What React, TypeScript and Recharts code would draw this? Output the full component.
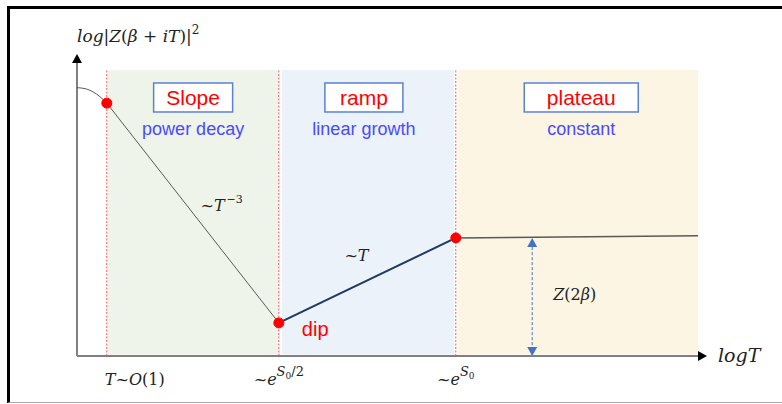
import {
  ComposedChart,
  Line,
  XAxis,
  YAxis,
  ReferenceArea,
  ReferenceLine,
  ReferenceDot
} from 'recharts'

// schematic units: x = log T (0..100), y = log|Z|^2 (0..100)
const phaseNames = ['Slope', 'ramp', 'plateau']
const phaseNotes = ['power decay', 'linear growth', 'constant']
const phaseCenters = [18.7, 46.2, 81.2]
const phaseStart = [5.0, 33.0, 61.4]
const phaseEnd = [32.4, 60.7, 100]
const phaseTop = 97.6

const markerX = [4.8, 32.5, 61]
const markerY = [86.3, 11.3, 40.3]

const shoulder = [
  { x: 0, y: 91.6 },
  { x: 1.56, y: 91.1 },
  { x: 2.62, y: 90.1 },
  { x: 3.7, y: 88.5 },
  { x: 4.8, y: 86.3 }
]
const slope = [
  { x: 4.8, y: 86.3 },
  { x: 32.5, y: 11.3 }
]
const ramp = [
  { x: 32.5, y: 11.3 },
  { x: 61, y: 40.3 }
]
const plateau = [
  { x: 61, y: 40.3 },
  { x: 100, y: 41 }
]

const gapX = 73.3

const MATH = "'DejaVu Serif', 'Liberation Serif', serif"
const SANS = "'Liberation Sans', Arial, sans-serif"

const phaseFills = ['#eef4ea', '#ebf2fa', '#fdf5e4']
const boxWidths = [79, 78, 114]

const XTick = (props: any) => {
  const { x, y, index } = props
  const base = y + 21
  if (index === 0) {
    return (
      <text x={x - 2} y={base} fontFamily={MATH} fontSize={16} fill="#222" textAnchor="start">
        <tspan fontStyle="italic">T</tspan>
        <tspan>~</tspan>
        <tspan fontStyle="italic">O</tspan>
        <tspan>(1)</tspan>
      </text>
    )
  }
  return (
    <text x={x} y={base} fontFamily={MATH} fontSize={16} fill="#222" textAnchor="middle">
      <tspan>~</tspan>
      <tspan fontStyle="italic">e</tspan>
      <tspan fontStyle="italic" fontSize={13} dy={-9}>S</tspan>
      <tspan fontSize={9} dy={3}>0</tspan>
      {index === 1 ? <tspan fontSize={13} dy={-3}>/2</tspan> : null}
    </text>
  )
}

export default function App() {
  return (
    <div style={{ position: 'absolute', left: 0, top: 0, width: 782, height: 404, background: '#fff' }}>
      <div
        style={{
          position: 'absolute',
          left: 7,
          top: 6,
          width: 775,
          height: 397,
          borderTop: '3px solid #000',
          borderLeft: '3px solid #000',
          borderBottom: '1px solid #aaa',
          boxSizing: 'border-box'
        }}
      />
      <div style={{ position: 'absolute', left: 0, top: 0 }}>
        <ComposedChart
          width={782}
          height={404}
          margin={{ top: 63, right: 84, left: 77, bottom: 18 }}
        >
          <XAxis
            type="number"
            dataKey="x"
            domain={[0, 100]}
            ticks={markerX}
            tick={<XTick />}
            tickLine={false}
            height={30}
            axisLine={{ stroke: '#808080', strokeWidth: 2 }}
            allowDataOverflow
          />
          <YAxis type="number" dataKey="y" domain={[0, 100]} hide allowDataOverflow />

          {phaseNames.map((name, i) => (
            <ReferenceArea
              key={name}
              x1={phaseStart[i]}
              x2={phaseEnd[i]}
              y1={0.5}
              y2={phaseTop}
              fill={phaseFills[i]}
              fillOpacity={1}
              stroke="none"
            />
          ))}

          <ReferenceLine
            segment={[{ x: 0, y: 0 }, { x: 0, y: 100 }]}
            stroke="#808080"
            strokeWidth={2}
            ifOverflow="visible"
          />

          {markerX.map((mx) => (
            <ReferenceLine
              key={mx}
              segment={[{ x: mx, y: 0 }, { x: mx, y: phaseTop }]}
              stroke="#ff4d4d"
              strokeWidth={1}
              strokeDasharray="2 1.5"
            />
          ))}

          <Line data={shoulder} dataKey="y" type="monotone" stroke="#595959" strokeWidth={1} dot={false} isAnimationActive={false} />
          <Line data={slope} dataKey="y" type="linear" stroke="#595959" strokeWidth={1} dot={false} isAnimationActive={false} />
          <Line data={ramp} dataKey="y" type="linear" stroke="#1f3864" strokeWidth={2} dot={false} isAnimationActive={false} />
          <Line data={plateau} dataKey="y" type="linear" stroke="#595959" strokeWidth={1.5} dot={false} isAnimationActive={false} />

          <ReferenceLine
            segment={[{ x: gapX, y: 2 }, { x: gapX, y: markerY[2] - 2 }]}
            stroke="#4472c4"
            strokeWidth={1}
            strokeDasharray="3 2"
          />
          <ReferenceDot
            x={gapX}
            y={markerY[2]}
            ifOverflow="visible"
            shape={(p: any) => (
              <polygon points={`${p.cx - 5},${p.cy + 9} ${p.cx + 5},${p.cy + 9} ${p.cx},${p.cy}`} fill="#4472c4" />
            )}
          />
          <ReferenceDot
            x={gapX}
            y={0}
            ifOverflow="visible"
            shape={(p: any) => (
              <g>
                <polygon points={`${p.cx - 5},${p.cy - 9} ${p.cx + 5},${p.cy - 9} ${p.cx},${p.cy}`} fill="#4472c4" />
                <text x={p.cx + 21} y={p.cy - 56} fontFamily={MATH} fontSize={16} fill="#222">
                  <tspan fontStyle="italic">Z</tspan>
                  <tspan>(2</tspan>
                  <tspan fontStyle="italic">β</tspan>
                  <tspan>)</tspan>
                </text>
              </g>
            )}
          />

          {markerX.map((mx, i) => (
            <ReferenceDot key={'d' + mx} x={mx} y={markerY[i]} r={5} fill="#ff0000" stroke="#ff0000" ifOverflow="visible" />
          ))}

          {phaseNames.map((name, i) => (
            <ReferenceDot
              key={'l' + name}
              x={phaseCenters[i]}
              y={88.4}
              ifOverflow="visible"
              shape={(p: any) => (
                <g>
                  <rect
                    x={p.cx - boxWidths[i] / 2}
                    y={p.cy - 14}
                    width={boxWidths[i]}
                    height={29}
                    fill="#fff"
                    stroke="#5b82d2"
                    strokeWidth={1.5}
                  />
                  <text x={p.cx} y={p.cy + 8} textAnchor="middle" fontFamily={SANS} fontSize={21} fill="#ff0000">
                    {name}
                  </text>
                  <text x={p.cx} y={p.cy + 38} textAnchor="middle" fontFamily={SANS} fontSize={18} fill="#4a4aff">
                    {phaseNotes[i]}
                  </text>
                </g>
              )}
            />
          ))}

          <ReferenceDot
            x={23.3}
            y={51.5}
            ifOverflow="visible"
            shape={(p: any) => (
              <text x={p.cx} y={p.cy + 6} textAnchor="middle" fontFamily={MATH} fontSize={16} fill="#222">
                <tspan>~</tspan>
                <tspan fontStyle="italic">T</tspan>
                <tspan fontSize={11} dx={2} dy={-8}>−3</tspan>
              </text>
            )}
          />
          <ReferenceDot
            x={45}
            y={34.5}
            ifOverflow="visible"
            shape={(p: any) => (
              <text x={p.cx} y={p.cy + 6} textAnchor="middle" fontFamily={MATH} fontSize={16} fill="#222">
                <tspan>~</tspan>
                <tspan fontStyle="italic">T</tspan>
              </text>
            )}
          />
          <ReferenceDot
            x={markerX[1]}
            y={markerY[1]}
            ifOverflow="visible"
            shape={(p: any) => (
              <text x={p.cx + 23} y={p.cy + 13} fontFamily={SANS} fontSize={20} fill="#ff0000">
                dip
              </text>
            )}
          />

          <ReferenceDot
            x={0}
            y={100}
            ifOverflow="visible"
            shape={(p: any) => (
              <g>
                <polygon points={`${p.cx - 5},${p.cy} ${p.cx + 5},${p.cy} ${p.cx},${p.cy - 9}`} fill="#000" />
                <text x={p.cx} y={p.cy - 21} fontFamily={MATH} fontSize={17} fill="#222">
                  <tspan fontStyle="italic">log</tspan>
                  <tspan>|</tspan>
                  <tspan fontStyle="italic">Z</tspan>
                  <tspan>(</tspan>
                  <tspan fontStyle="italic">β</tspan>
                  <tspan> + </tspan>
                  <tspan fontStyle="italic">iT</tspan>
                  <tspan>)|</tspan>
                  <tspan fontSize={12} dy={-8}>2</tspan>
                </text>
              </g>
            )}
          />
          <ReferenceDot
            x={100}
            y={0}
            ifOverflow="visible"
            shape={(p: any) => (
              <g>
                <polygon points={`${p.cx},${p.cy - 5} ${p.cx},${p.cy + 5} ${p.cx + 9},${p.cy}`} fill="#000" />
                <text x={p.cx + 20} y={p.cy + 6} fontFamily={MATH} fontSize={19} fontStyle="italic" fill="#222">
                  logT
                </text>
              </g>
            )}
          />
        </ComposedChart>
      </div>
    </div>
  )
}
